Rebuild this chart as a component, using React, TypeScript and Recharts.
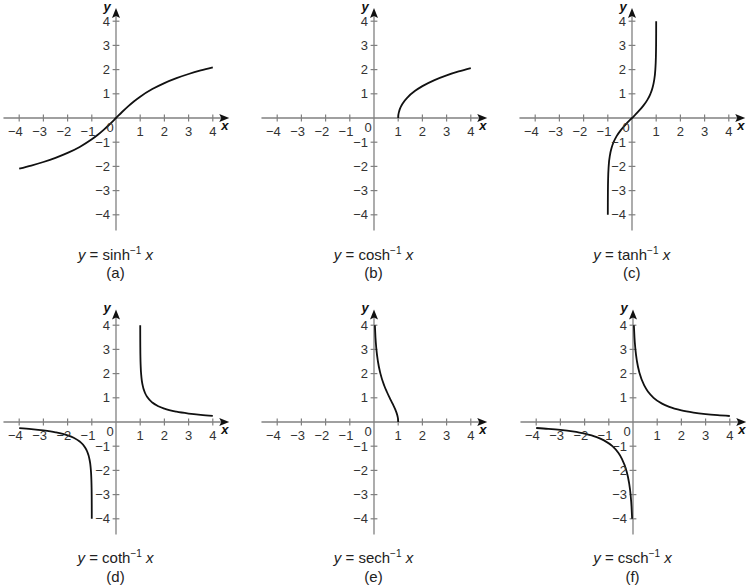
import React from "react";
import { LineChart, Line, XAxis, YAxis, ReferenceLine, ReferenceDot } from "recharts";

type Pt = { x: number; y: number };

const ticks = [-4, -3, -2, -1, 1, 2, 3, 4];

// values
const asinhPts: Pt[] = [
  { x: -4, y: -2.094 }, { x: -3.5, y: -1.966 }, { x: -3, y: -1.818 }, { x: -2.5, y: -1.647 },
  { x: -2, y: -1.444 }, { x: -1.5, y: -1.195 }, { x: -1, y: -0.881 }, { x: -0.75, y: -0.693 },
  { x: -0.5, y: -0.481 }, { x: -0.25, y: -0.247 }, { x: 0, y: 0 }, { x: 0.25, y: 0.247 },
  { x: 0.5, y: 0.481 }, { x: 0.75, y: 0.693 }, { x: 1, y: 0.881 }, { x: 1.5, y: 1.195 },
  { x: 2, y: 1.444 }, { x: 2.5, y: 1.647 }, { x: 3, y: 1.818 }, { x: 3.5, y: 1.966 }, { x: 4, y: 2.094 },
];

const acoshPts: Pt[] = [
  { x: 1, y: 0 }, { x: 1.005, y: 0.1 }, { x: 1.02, y: 0.2 }, { x: 1.05, y: 0.315 }, { x: 1.1, y: 0.444 },
  { x: 1.2, y: 0.622 }, { x: 1.4, y: 0.867 }, { x: 1.7, y: 1.123 }, { x: 2, y: 1.317 },
  { x: 2.5, y: 1.567 }, { x: 3, y: 1.763 }, { x: 3.5, y: 1.925 }, { x: 4, y: 2.063 },
];

const atanhPts: Pt[] = [
  { x: -0.9993, y: -4 }, { x: -0.9982, y: -3.5 }, { x: -0.995, y: -3 }, { x: -0.9866, y: -2.5 },
  { x: -0.964, y: -2 }, { x: -0.9051, y: -1.5 }, { x: -0.8483, y: -1.25 }, { x: -0.7616, y: -1 },
  { x: -0.6351, y: -0.75 }, { x: -0.4621, y: -0.5 }, { x: -0.2449, y: -0.25 }, { x: 0, y: 0 },
  { x: 0.2449, y: 0.25 }, { x: 0.4621, y: 0.5 }, { x: 0.6351, y: 0.75 }, { x: 0.7616, y: 1 },
  { x: 0.8483, y: 1.25 }, { x: 0.9051, y: 1.5 }, { x: 0.964, y: 2 }, { x: 0.9866, y: 2.5 },
  { x: 0.995, y: 3 }, { x: 0.9982, y: 3.5 }, { x: 0.9993, y: 4 },
];

const acothRight: Pt[] = [
  { x: 1.0007, y: 4 }, { x: 1.002, y: 3.454 }, { x: 1.005, y: 2.997 }, { x: 1.01, y: 2.652 },
  { x: 1.02, y: 2.308 }, { x: 1.05, y: 1.857 }, { x: 1.1, y: 1.522 }, { x: 1.2, y: 1.199 },
  { x: 1.3, y: 1.019 }, { x: 1.5, y: 0.805 }, { x: 1.75, y: 0.65 }, { x: 2, y: 0.549 },
  { x: 2.5, y: 0.424 }, { x: 3, y: 0.347 }, { x: 3.5, y: 0.294 }, { x: 4, y: 0.255 },
];

const acothLeft: Pt[] = [
  { x: -4, y: -0.255 }, { x: -3.5, y: -0.294 }, { x: -3, y: -0.347 }, { x: -2.5, y: -0.424 },
  { x: -2, y: -0.549 }, { x: -1.75, y: -0.65 }, { x: -1.5, y: -0.805 }, { x: -1.3, y: -1.019 },
  { x: -1.2, y: -1.199 }, { x: -1.1, y: -1.522 }, { x: -1.05, y: -1.857 }, { x: -1.02, y: -2.308 },
  { x: -1.01, y: -2.652 }, { x: -1.005, y: -2.997 }, { x: -1.002, y: -3.454 }, { x: -1.0007, y: -4 },
];

const asechPts: Pt[] = [
  { x: 0.0366, y: 4 }, { x: 0.0603, y: 3.5 }, { x: 0.0993, y: 3 }, { x: 0.1631, y: 2.5 },
  { x: 0.2658, y: 2 }, { x: 0.4251, y: 1.5 }, { x: 0.5295, y: 1.25 }, { x: 0.648, y: 1 },
  { x: 0.7724, y: 0.75 }, { x: 0.8868, y: 0.5 }, { x: 0.9566, y: 0.3 }, { x: 0.9803, y: 0.2 },
  { x: 0.995, y: 0.1 }, { x: 1, y: 0 },
];

const acschRight: Pt[] = [
  { x: 0.0366, y: 4 }, { x: 0.0605, y: 3.5 }, { x: 0.0998, y: 3 }, { x: 0.1653, y: 2.5 },
  { x: 0.2757, y: 2 }, { x: 0.4696, y: 1.5 }, { x: 0.6243, y: 1.25 }, { x: 0.8509, y: 1 },
  { x: 1.2, y: 0.759 }, { x: 1.5, y: 0.625 }, { x: 2, y: 0.481 }, { x: 2.5, y: 0.39 },
  { x: 3, y: 0.327 }, { x: 3.5, y: 0.282 }, { x: 4, y: 0.247 },
];

const acschLeft: Pt[] = [
  { x: -4, y: -0.247 }, { x: -3.5, y: -0.282 }, { x: -3, y: -0.327 }, { x: -2.5, y: -0.39 },
  { x: -2, y: -0.481 }, { x: -1.5, y: -0.625 }, { x: -1.2, y: -0.759 }, { x: -0.8509, y: -1 },
  { x: -0.6243, y: -1.25 }, { x: -0.4696, y: -1.5 }, { x: -0.2757, y: -2 }, { x: -0.1653, y: -2.5 },
  { x: -0.0998, y: -3 }, { x: -0.0605, y: -3.5 }, { x: -0.0366, y: -4 },
];

const UNIT = 24.2;
const SIZE = UNIT * 10;
const AXIS = "#808080";
const INK = "#111";
const LABEL = "#333";
const FONT = "'Liberation Sans', Arial, sans-serif";

const fmt = (t: number) => (t < 0 ? `\u2212${-t}` : `${t}`);

interface PanelProps {
  ox: number;
  oy: number;
  top: number;
  series: Pt[][];
  fn: string;
  tag: string;
}

const Panel = ({ ox, oy, top, series, fn, tag }: PanelProps) => (
  <>
    <div style={{ position: "absolute", left: ox - SIZE / 2, top: oy - SIZE / 2 }}>
      <LineChart width={SIZE} height={SIZE} margin={{ top: 0, right: 0, bottom: 0, left: 0 }}>
        <XAxis type="number" dataKey="x" domain={[-5, 5]} hide allowDataOverflow />
        <YAxis type="number" dataKey="y" domain={[-5, 5]} hide allowDataOverflow />
        <ReferenceLine segment={[{ x: -4.65, y: 0 }, { x: 4.4, y: 0 }]} stroke={AXIS} strokeWidth={1.3} />
        <ReferenceLine segment={[{ x: 0, y: -4.65 }, { x: 0, y: top - 0.3 }]} stroke={AXIS} strokeWidth={1.3} />
        {ticks.map((t) => (
          <ReferenceLine key={`xt${t}`} segment={[{ x: t, y: -0.14 }, { x: t, y: 0.14 }]} stroke={AXIS} strokeWidth={1.2} />
        ))}
        {ticks.map((t) => (
          <ReferenceLine key={`yt${t}`} segment={[{ x: -0.14, y: t }, { x: 0.14, y: t }]} stroke={AXIS} strokeWidth={1.2} />
        ))}
        {ticks.map((t) => (
          <ReferenceDot
            key={`xl${t}`}
            x={t}
            y={0}
            shape={(p: any) => (
              <text x={p.cx + (t < 0 ? -3.8 : 0)} y={p.cy + 13.5} dy="0.35em" textAnchor="middle" fontSize={13} fill={LABEL} fontFamily={FONT}>
                {fmt(t)}
              </text>
            )}
          />
        ))}
        {ticks.map((t) => (
          <ReferenceDot
            key={`yl${t}`}
            x={0}
            y={t}
            shape={(p: any) => (
              <text x={p.cx - 6} y={p.cy} dy="0.35em" textAnchor="end" fontSize={13} fill={LABEL} fontFamily={FONT}>
                {fmt(t)}
              </text>
            )}
          />
        ))}
        <ReferenceDot
          x={0}
          y={0}
          shape={(p: any) => (
            <text x={p.cx - 6} y={p.cy + 9} dy="0.35em" textAnchor="middle" fontSize={13} fill={LABEL} fontFamily={FONT}>
              0
            </text>
          )}
        />
        <ReferenceDot
          x={4.68}
          y={0}
          shape={(p: any) => (
            <path d={`M${p.cx},${p.cy} L${p.cx - 10},${p.cy - 4} L${p.cx - 8},${p.cy} L${p.cx - 10},${p.cy + 4} Z`} fill={INK} />
          )}
        />
        <ReferenceDot
          x={0}
          y={top}
          shape={(p: any) => (
            <path d={`M${p.cx},${p.cy} L${p.cx - 4},${p.cy + 10} L${p.cx},${p.cy + 8} L${p.cx + 4},${p.cy + 10} Z`} fill={INK} />
          )}
        />
        <ReferenceDot
          x={4.5}
          y={-0.3}
          shape={(p: any) => (
            <text x={p.cx} y={p.cy} dy="0.35em" textAnchor="middle" fontSize={13} fontStyle="italic" fontWeight="bold" fill={INK} fontFamily={FONT}>
              x
            </text>
          )}
        />
        <ReferenceDot
          x={-0.37}
          y={top + 0.04}
          shape={(p: any) => (
            <text x={p.cx} y={p.cy} dy="0.3em" textAnchor="middle" fontSize={13} fontStyle="italic" fontWeight="bold" fill={INK} fontFamily={FONT}>
              y
            </text>
          )}
        />
        {series.map((pts, i) => (
          <Line
            key={i}
            data={pts}
            dataKey="y"
            type="monotone"
            stroke={INK}
            strokeWidth={1.8}
            dot={false}
            activeDot={false}
            isAnimationActive={false}
          />
        ))}
      </LineChart>
    </div>
    <div
      style={{
        position: "absolute",
        left: ox - 100,
        width: 200,
        top: oy + 127.5,
        textAlign: "center",
        fontSize: 15,
        lineHeight: "18px",
        color: "#222",
        fontFamily: FONT,
      }}
    >
      <i>y</i> = {fn}
      <sup style={{ fontSize: 10, lineHeight: 0 }}>{"\u22121"}</sup> <i>x</i>
    </div>
    <div
      style={{
        position: "absolute",
        left: ox - 100,
        width: 200,
        top: oy + 146,
        textAlign: "center",
        fontSize: 15,
        lineHeight: "18px",
        color: "#222",
        fontFamily: FONT,
      }}
    >
      ({tag})
    </div>
  </>
);

export default function App() {
  return (
    <div style={{ position: "absolute", left: 0, top: 0, width: 756, height: 585, background: "#fff", overflow: "hidden" }}>
      <Panel ox={115.5} oy={118.3} top={4.55} series={[asinhPts]} fn="sinh" tag="a" />
      <Panel ox={373.5} oy={118.3} top={4.55} series={[acoshPts]} fn="cosh" tag="b" />
      <Panel ox={631.7} oy={118.3} top={4.55} series={[atanhPts]} fn="tanh" tag="c" />
      <Panel ox={115.5} oy={421.7} top={4.65} series={[acothRight, acothLeft]} fn="coth" tag="d" />
      <Panel ox={373.5} oy={421.7} top={4.65} series={[asechPts]} fn="sech" tag="e" />
      <Panel ox={632.5} oy={421.7} top={4.65} series={[acschRight, acschLeft]} fn="csch" tag="f" />
    </div>
  );
}
